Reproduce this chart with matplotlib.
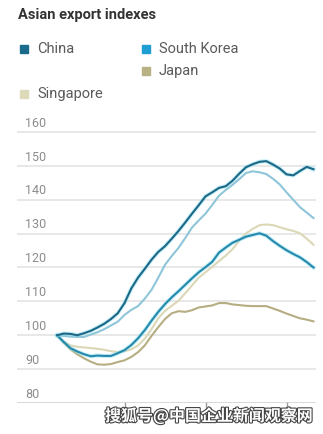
import numpy as np
import matplotlib
matplotlib.use("Agg")
import matplotlib.pyplot as plt
import matplotlib.patheffects as pe
from matplotlib.patches import Rectangle

# monthly index values, all series rebased to 100 at the start
months = np.arange(39)
china = [100, 100.5, 100.4, 100, 100.6, 101.3, 102.3, 103.4, 104.8, 106.5,
         109.5, 113.8, 117, 119.6, 122.3, 124.6, 126.3, 128.5, 130.8, 133.3,
         135.9, 138.4, 141, 142.2, 143.5, 144, 145.6, 147.7, 149.6, 150.5,
         151.2, 151.4, 150.4, 149.2, 147.5, 147.2, 148.5, 149.7, 149]
taiwan = [100, 99.8, 99.6, 99.5, 99.5, 100.2, 100.9, 101.8, 102.9, 104,
          106, 107.5, 108.6, 110.8, 113.4, 117, 120.8, 123.4, 125.8, 128.7,
          131.8, 133.9, 135.9, 138.5, 141.2, 142.9, 144.4, 146.1, 147.9, 148.4,
          148.1, 147.6, 146.2, 144.5, 142.2, 140, 137.8, 136.2, 134.6]
south_korea = [100, 98, 96.2, 95.2, 94.4, 93.8, 94, 93.9, 93.9, 94.7,
               95.6, 97.1, 99.1, 101.5, 104.3, 106.9, 109.2, 111.2, 113, 114.9,
               116.8, 118.6, 120.1, 121.7, 124.4, 125.9, 127.3, 128.2, 129.1, 129.6,
               130.1, 129.4, 127.8, 126.4, 125.1, 124, 123, 121.6, 120]
singapore = [100, 98.2, 97, 96.6, 96.4, 96.2, 96, 95.7, 95.3, 95,
             95.3, 95.8, 97, 99, 101.8, 105, 107.2, 108.7, 110.2, 112.4,
             114.7, 117, 118.6, 120.2, 121.9, 123.5, 125.4, 127.9, 130.1, 131.4,
             132.5, 132.7, 132.5, 131.9, 131.3, 130.8, 130.1, 128.5, 126.7]
japan = [100, 97.8, 95.8, 94.4, 93.2, 92.2, 91.4, 91.3, 91.5, 92.1,
         92.6, 93.6, 95, 97, 99.8, 102.4, 104.8, 106.5, 107.1, 106.9,
         107.4, 108.2, 108.5, 108.8, 109.5, 109.5, 109.1, 108.9, 108.7, 108.6,
         108.6, 108.6, 107.9, 107.2, 106.4, 105.7, 105, 104.6, 104.1]

y_ticks = [80, 90, 100, 110, 120, 130, 140, 150, 160]
x_ticks = [10, 22, 34]

W, H = 323, 434
fig = plt.figure(figsize=(W / 100, H / 100), dpi=100)


def fx(x):
    return x / W


def fy(y):
    return 1 - y / H


# axes placed in pixels: left 17, right 316, 80 at y=403, top a bit above 160
ax = fig.add_axes([fx(17), fy(403), fx(316) - fx(17), fy(128) - fy(403)])
ax.set_xlim(-5.93, 38.37)
ax.set_ylim(80, 160 + 4 / 3.39)
ax.axis("off")

for v in y_ticks:
    ax.axhline(v, color="#e6e6e6" if v > 80 else "#d6d6d6", lw=1.3, zorder=0)
    ax.text(0.027, v + 0.7, str(v), transform=ax.get_yaxis_transform(),
            ha="left", va="bottom", fontsize=9, color="#8c8c8c",
            family="Roboto")

for t in x_ticks:
    ax.plot([t, t], [80, 80 - 7 / 3.39], color="#999999", lw=1,
            clip_on=False, zorder=1)

glow = [pe.Stroke(linewidth=3.0, foreground="#8fe3f3", alpha=0.5), pe.Normal()]
ax.plot(months, singapore, color="#dcd7b6", lw=1.5, zorder=2)
ax.plot(months, japan, color="#b6ae82", lw=1.5, zorder=2)
ax.plot(months, taiwan, color="#8ec5d9", lw=1.5, zorder=3)
ax.plot(months, south_korea, color="#2689ab", lw=1.5, zorder=4,
        path_effects=glow)
ax.plot(months, china, color="#1d6886", lw=1.5, zorder=5,
        path_effects=glow)

fig.text(fx(18), fy(15), "Asian export indexes", fontsize=10.5,
         fontweight="bold", color="#333333", va="center", ha="left",
         family="Roboto")

legend_items = [("China", "#1b6b8c", 20, 49),
                ("South Korea", "#1e9ed3", 142, 49),
                ("Japan", "#b8b184", 142, 71),
                ("Singapore", "#dddab9", 20, 94)]
for name, col, x0, y0 in legend_items:
    fig.patches.append(Rectangle((fx(x0), fy(y0 + 4)), fx(8), 8 / H,
                                 transform=fig.transFigure, color=col))
    fig.text(fx(x0 + 17), fy(y0), name, fontsize=10.5, color="#5a5a5a",
             va="center", ha="left", family="Roboto")

fig.text(fx(209), fy(416), "搜狐号@中国企业新闻观察网", fontsize=11.5,
         fontweight="bold", color="white", ha="center", va="center",
         family=["Noto Sans CJK SC", "DejaVu Sans"],
         path_effects=[pe.withStroke(linewidth=1.6, foreground="#444444")])

fig.savefig("out.png", dpi=100)
